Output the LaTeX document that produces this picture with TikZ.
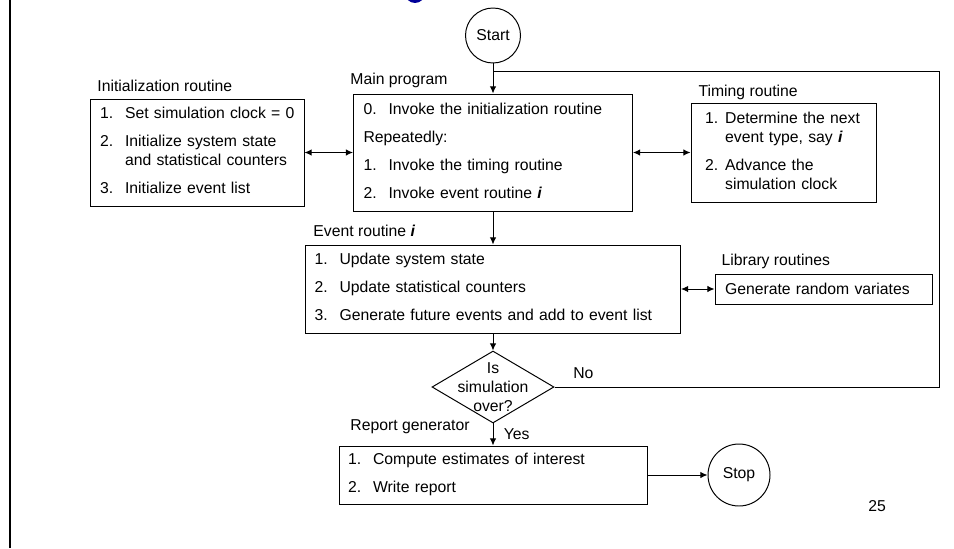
\documentclass[tikz,border=0pt]{standalone}
\usepackage{fontspec}
\setmainfont{Liberation Sans}
\usetikzlibrary{shapes.geometric,arrows.meta}
\tikzset{
  >={Latex[length=5pt,width=4.5pt]},
  routine/.style={draw, rectangle, align=left, inner ysep=0pt},
  caption/.style={anchor=west, inner sep=0pt, text height=8.2pt, text depth=2.3pt},
  terminal/.style={draw, circle, inner sep=0pt},
  decision/.style={draw, diamond, minimum width=3.05cm, minimum height=1.8cm, inner sep=0pt},
}
\newcommand{\evi}{\textit{\textbf{i}}}
\begin{document}
\begin{tikzpicture}[font=\fontsize{11.2}{13.5}\selectfont, line width=0.7pt]
    \useasboundingbox (0,0) rectangle (23.85,13.7);
    \fill[blue!60!black] (10.375,13.875) circle (0.25);
    \draw[line width=1.4pt] (0.25,0) -- (0.25,13.7);
    %
    \node[terminal, minimum size=1.375cm] (Start) at (12.325,12.8125) {Start};
    \node[routine, text width=6.475cm, inner xsep=0.25cm, minimum height=2.925cm] (Main) at (12.325,9.8875) {%
      \begin{tabular}{@{}l@{\hspace{8.5pt}}l@{}}
      0. & Invoke the initialization routine\\[6.4pt]
      \multicolumn{2}{@{}l@{}}{Repeatedly:}\\[6.4pt]
      1. & Invoke the timing routine\\[6.4pt]
      2. & Invoke event routine \evi
      \end{tabular}};
    \node[routine, text width=4.85cm, inner xsep=0.25cm, minimum height=2.675cm] (Init) at (4.925,9.8875) {%
      \begin{tabular}{@{}l@{\hspace{8.5pt}}l@{}}
      1. & Set simulation clock = 0\\[6.4pt]
      2. & Initialize system state\\
         & and statistical counters\\[6.4pt]
      3. & Initialize event list
      \end{tabular}};
    \node[routine, text width=3.925cm, inner xsep=0.35cm, minimum height=2.475cm] (Timing) at (19.5875,9.8875) {%
      \begin{tabular}{@{}l@{\hspace{5pt}}l@{}}
      1. & Determine the next\\
         & event type, say \evi\\[6.4pt]
      2. & Advance the\\
         & simulation clock
      \end{tabular}};
    \node[routine, text width=8.925cm, inner xsep=0.225cm, minimum height=2.2cm] (Event) at (12.325,6.475) {%
      \begin{tabular}{@{}l@{\hspace{8.5pt}}l@{}}
      1. & Update system state\\[6.4pt]
      2. & Update statistical counters\\[6.4pt]
      3. & Generate future events and add to event list
      \end{tabular}};
    \node[routine, text width=4.925cm, inner xsep=0.25cm, minimum height=0.75cm] (Library) at (20.5875,6.475) {Generate random variates};
    \node[decision] (Check) at (12.325,4.025) {};
    \node[align=center, inner sep=0pt] (CheckText) at (12.325,4.025) {Is\\simulation\\over?};
    \node[routine, text width=7.25cm, inner xsep=0.225cm, minimum height=1.45cm] (Report) at (12.325,1.825) {%
      \begin{tabular}{@{}l@{\hspace{8.5pt}}l@{}}
      1. & Compute estimates of interest\\[6.4pt]
      2. & Write report
      \end{tabular}};
    \node[terminal, minimum size=1.55cm] (Stop) at (18.475,1.825) {Stop};
    %
    \node[caption] (InitLabel) at (2.425,11.525) {Initialization routine};
    \node[caption] (MainLabel) at (8.75,11.7) {Main program};
    \node[caption] (TimingLabel) at (17.45,11.4) {Timing routine};
    \node[caption] (EventLabel) at (7.825,7.9) {Event routine \evi};
    \node[caption] (LibraryLabel) at (18.025,7.175) {Library routines};
    \node[caption] (ReportLabel) at (8.75,3.05) {Report generator};
    \node (PageNo) at (21.925,1.05) {25};
    %
    \coordinate (LoopCorner) at (23.475,4.025);
    \coordinate (LoopTop) at (23.475,11.925);
    \coordinate (LoopJoin) at (12.325,11.925);
    %
    \draw[->] (Start) -- (Main);
    \draw[<->] (Init) -- (Main);
    \draw[<->] (Main) -- (Timing);
    \draw[->] (Main) -- (Event);
    \draw[<->] (Event) -- (Library);
    \draw[->] (Event) -- (Check);
    %
    \path (Check.east) -- (LoopCorner) node[pos=0.075, above=2pt] (NoLabel) {No};
    \draw (Check.east) -- (LoopCorner) -- (LoopTop) -- (LoopJoin);
    %
    \path (Check.south) -- (Report.north) node[midway, right=4pt] (YesLabel) {Yes};
    \draw[->] (Check.south) -- (Report.north);
    %
    \draw[->] (Report) -- (Stop);
\end{tikzpicture}
\end{document}
